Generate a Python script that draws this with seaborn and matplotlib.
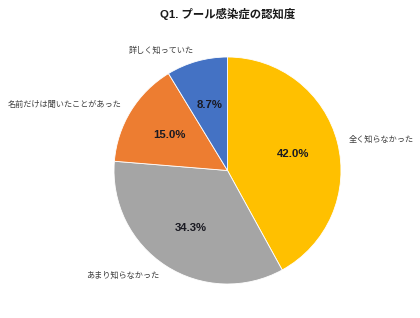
import matplotlib
matplotlib.use("Agg")
import matplotlib.pyplot as plt
import seaborn as sns

sns.set_theme(style="white")
plt.rcParams['font.family'] = ['Noto Sans CJK JP', 'DejaVu Sans']

title = "Q1. プール感染症の認知度"
categories = ["全く知らなかった", "あまり知らなかった", "名前だけは聞いたことがあった", "詳しく知っていた"]
values = [42.0, 34.3, 15.0, 8.7]
colors = ["#FFC000", "#A5A5A5", "#ED7D31", "#4472C4"]

W, H = 420, 318
fig = plt.figure(figsize=(W / 100, H / 100), dpi=100)
cx, cy, r = 227.5, 170.5, 113.5
ax = fig.add_axes([(cx - r) / W, (H - cy - r) / H, 2 * r / W, 2 * r / H])

wedges, texts, autotexts = ax.pie(
    values, labels=categories, colors=colors, startangle=90, counterclock=False,
    autopct=lambda p: f"{p:.1f}%", pctdistance=0.6, labeldistance=1.1,
    wedgeprops=dict(edgecolor="white", linewidth=0.6),
    textprops=dict(fontsize=5.9, color="#404040"),
)
for t in autotexts:
    t.set_fontsize(8.2)
    t.set_fontweight("bold")
    t.set_color("#1a1a22")
    t.set_family(["Liberation Sans", "DejaVu Sans"])
ax.set_xlim(-1, 1)
ax.set_ylim(-1, 1)
ax.set_aspect("equal")

fig.text(cx / W, 1 - 14 / H, title, ha="center", va="center", fontsize=8.2,
         fontweight="bold", color="#1a1a1a",
         family=["Liberation Sans", "Noto Sans CJK JP"])

fig.savefig("out.png", dpi=100)
